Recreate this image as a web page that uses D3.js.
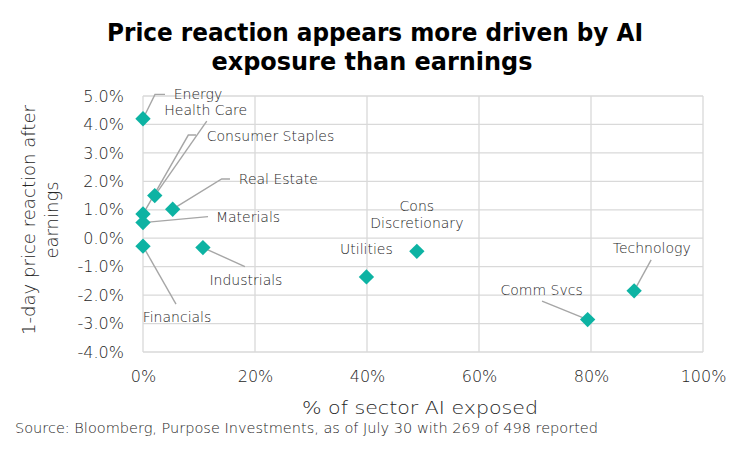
<!DOCTYPE html>
<html>
<head>
<meta charset="utf-8">
<script src="https://cdn.jsdelivr.net/npm/d3@7"></script>
<style>
  body { margin: 0; background: #fff; }
  svg { display: block; font-family: "DejaVu Sans", "Open Sans", sans-serif; }
</style>
</head>
<body>
<svg id="chart" width="750" height="452"></svg>
<script>
// ---- data ----
const sectors   = ["Energy", "Health Care", "Consumer Staples", "Real Estate", "Materials",
                   "Financials", "Industrials", "Utilities", "Cons Discretionary", "Comm Svcs", "Technology"];
const aiExposed = [0, 2.1, 0, 5.3, 0, 0, 10.7, 39.9, 48.9, 79.4, 87.7];        // % of sector AI exposed
const reaction  = [4.2, 1.5, 0.85, 1.02, 0.55, -0.28, -0.33, -1.36, -0.46, -2.86, -1.85]; // 1-day reaction %
const xTicks = [0, 20, 40, 60, 80, 100];
const yTicks = [-4, -3, -2, -1, 0, 1, 2, 3, 4, 5];

// ---- annotation layout (pixel offsets from each point) ----
const labelLayout = {
  "Energy":             { lines: ["Energy"], dx: 55, dy: -25, leader: [[12,-24.4],[22,-24.4]] },
  "Health Care":        { lines: ["Health Care"], dx: 51, dy: -85, leader: [[52,-74.5]] },
  "Consumer Staples":   { lines: ["Consumer Staples"], dx: 127.5, dy: -78, leader: [[45.3,-79],[53,-79]] },
  "Real Estate":        { lines: ["Real Estate"], dx: 105.6, dy: -30, leader: [[49,-30.2],[57.3,-30.2]] },
  "Materials":          { lines: ["Materials"], dx: 105, dy: -5, leader: [[65,-6]] },
  "Financials":         { lines: ["Financials"], dx: 34, dy: 70.5, leader: [[33,58]] },
  "Industrials":        { lines: ["Industrials"], dx: 43, dy: 32.4, leader: [[42,19]] },
  "Utilities":          { lines: ["Utilities"], dx: 0, dy: -28, leader: null },
  "Cons Discretionary": { lines: ["Cons", "Discretionary"], dx: 0, dy: -45.6, leader: null },
  "Comm Svcs":          { lines: ["Comm Svcs"], dx: -46, dy: -29.5, leader: [[-45.6,-18.5]] },
  "Technology":         { lines: ["Technology"], dx: 17.6, dy: -42.5, leader: [[17,-31]] }
};

const points = sectors.map((s, i) => ({ name: s, x: aiExposed[i], y: reaction[i] }));

const svg = d3.select("#chart");
const plot = { left: 143, right: 703, top: 96, bottom: 352 };

const x = d3.scaleLinear().domain([0, 100]).range([plot.left, plot.right]);
const y = d3.scaleLinear().domain([-4, 5]).range([plot.bottom, plot.top]);

const gridColor = "#d9d9d9";
const textColor = "#262626";
const lightW = 200;

// Title
svg.append("text").attr("x", 375).attr("y", 41).attr("text-anchor", "middle")
  .attr("font-size", 24).attr("font-weight", 700).attr("fill", "#000")
  .attr("textLength", 536).attr("lengthAdjust", "spacingAndGlyphs")
  .text("Price reaction appears more driven by AI");
svg.append("text").attr("x", 372).attr("y", 70).attr("text-anchor", "middle")
  .attr("font-size", 24).attr("font-weight", 700).attr("fill", "#000")
  .attr("textLength", 321).attr("lengthAdjust", "spacingAndGlyphs")
  .text("exposure than earnings");

// Grid
svg.append("g").selectAll("line.h").data(yTicks).join("line")
  .attr("x1", plot.left).attr("x2", plot.right)
  .attr("y1", d => y(d)).attr("y2", d => y(d))
  .attr("stroke", gridColor).attr("stroke-width", 1.3);
svg.append("g").selectAll("line.v").data(xTicks).join("line")
  .attr("x1", d => x(d)).attr("x2", d => x(d))
  .attr("y1", plot.top).attr("y2", plot.bottom)
  .attr("stroke", gridColor).attr("stroke-width", 1.3);

// Axes (labels only)
const yAxis = d3.axisLeft(y).tickValues(yTicks).tickSize(0).tickPadding(19)
  .tickFormat(d => d.toFixed(1) + "%");
const gy = svg.append("g").attr("transform", `translate(${plot.left},0)`).call(yAxis);
gy.select(".domain").remove();
gy.selectAll("text").attr("font-size", 16).attr("fill", textColor)
  .attr("font-weight", lightW).attr("font-family", "'DejaVu Sans', sans-serif");

const xAxis = d3.axisBottom(x).tickValues(xTicks).tickSize(0).tickPadding(19)
  .tickFormat(d => d + "%");
const gx = svg.append("g").attr("transform", `translate(0,${plot.bottom})`).call(xAxis);
gx.select(".domain").remove();
gx.selectAll("text").attr("font-size", 16).attr("fill", textColor)
  .attr("font-weight", lightW).attr("font-family", "'DejaVu Sans', sans-serif");

// Axis titles
svg.append("text").attr("x", 420).attr("y", 414).attr("text-anchor", "middle")
  .attr("font-size", 18).attr("font-weight", lightW).attr("fill", textColor)
  .attr("textLength", 236).attr("lengthAdjust", "spacingAndGlyphs")
  .text("% of sector AI exposed");
const yt = svg.append("text").attr("transform", "translate(35,220) rotate(-90)")
  .attr("text-anchor", "middle").attr("font-size", 18).attr("font-weight", lightW).attr("fill", textColor);
yt.append("tspan").attr("x", 0).attr("dy", 0).attr("textLength", 230).attr("lengthAdjust", "spacingAndGlyphs")
  .text("1-day price reaction after");
yt.append("tspan").attr("x", 0).attr("dy", 23).text("earnings");

// Source
svg.append("text").attr("x", 15).attr("y", 433).attr("font-size", 13.5).attr("font-weight", lightW)
  .attr("fill", textColor).attr("textLength", 583).attr("lengthAdjust", "spacingAndGlyphs")
  .text("Source: Bloomberg, Purpose Investments, as of July 30 with 269 of 498 reported");

// Leader lines
const leaderG = svg.append("g");
points.forEach(p => {
  const L = labelLayout[p.name];
  if (!L || !L.leader) return;
  const px = x(p.x), py = y(p.y);
  const pts = [[px, py]].concat(L.leader.map(o => [px + o[0], py + o[1]]));
  leaderG.append("path").attr("d", d3.line()(pts))
    .attr("fill", "none").attr("stroke", "#a6a6a6").attr("stroke-width", 1.4);
});

// Markers (diamonds)
const diamond = d3.symbol().type(d3.symbolDiamond2).size(150);
svg.append("g").selectAll("path").data(points).join("path")
  .attr("d", diamond)
  .attr("transform", d => `translate(${x(d.x)},${y(d.y)})`)
  .attr("fill", "#0db3a3");

// Labels
const labelG = svg.append("g");
points.forEach(p => {
  const L = labelLayout[p.name];
  const px = x(p.x), py = y(p.y);
  L.lines.forEach((ln, i) => {
    labelG.append("text")
      .attr("x", px + L.dx).attr("y", py + L.dy + i * 17.6)
      .attr("dy", "0.35em").attr("text-anchor", "middle")
      .attr("font-size", 14).attr("font-weight", lightW).attr("fill", textColor).text(ln);
  });
});
</script>
</body>
</html>
